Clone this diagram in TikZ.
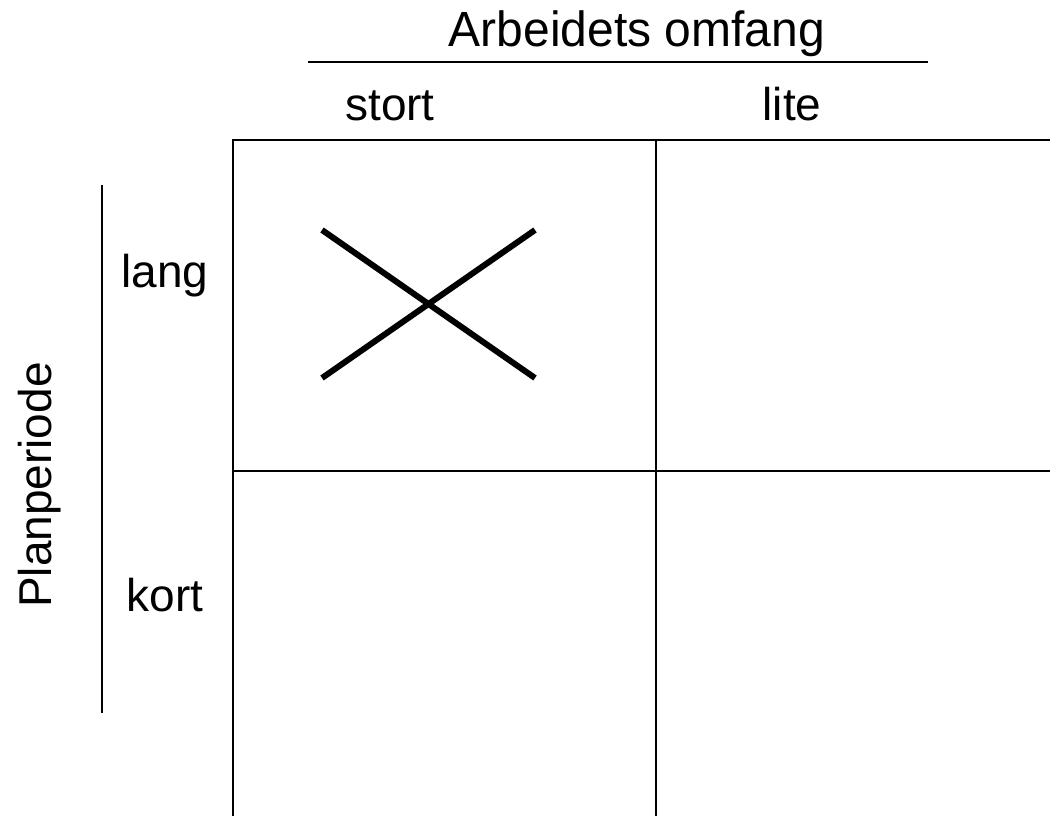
\documentclass[tikz,border=0pt]{standalone}
\usepackage{fontspec}
\setmainfont{Liberation Sans}
\begin{document}
\begin{tikzpicture}[x=1pt,y=-1pt,
  lbl/.style={font=\fontsize{46}{50}\selectfont, inner sep=0pt, anchor=base},
  grid/.style={line width=1.6pt},
  rule/.style={line width=1.3pt},
  cross/.style={line width=6pt}]
\useasboundingbox (0,0) rectangle (1050,816);
\clip (0,0) rectangle (1050,816);
% grid
\coordinate (tl) at (233,140);
\coordinate (tm) at (656,140);
\coordinate (tr) at (1052,140);
\coordinate (ml) at (233,471);
\coordinate (mr) at (1052,471);
\coordinate (bl) at (233,818);
\coordinate (bm) at (656,818);
\draw[grid] (bl) -- (tl) -- (tr);
\draw[grid] (tm) -- (bm);
\draw[grid, line width=2.2pt] (ml) -- (mr);
% header
\node[lbl, font=\fontsize{48}{52}\selectfont, yscale=1.03] (title) at (637,47) {Arbeidets omfang};
\coordinate (h1) at (308,62);
\coordinate (h2) at (928,62);
\draw[rule] (h1) -- (h2);
\node[lbl] (stort) at (390,120) {stort};
\node[lbl] (lite) at (792,120) {lite};
% side
\node[lbl] (lang) at (165,287) {lang};
\node[lbl] (kort) at (165,611) {kort};
\coordinate (v1) at (102,185);
\coordinate (v2) at (102,713);
\draw[rule] (v1) -- (v2);
\node[font=\fontsize{46}{50}\selectfont, inner sep=0pt, rotate=90] (plan) at (40,485) {Planperiode};
% cross
\coordinate (c1) at (322,230);
\coordinate (c2) at (535,378);
\coordinate (c3) at (322,378);
\coordinate (c4) at (535,230);
\draw[cross] (c1) -- (c2);
\draw[cross] (c3) -- (c4);
\end{tikzpicture}
\end{document}
